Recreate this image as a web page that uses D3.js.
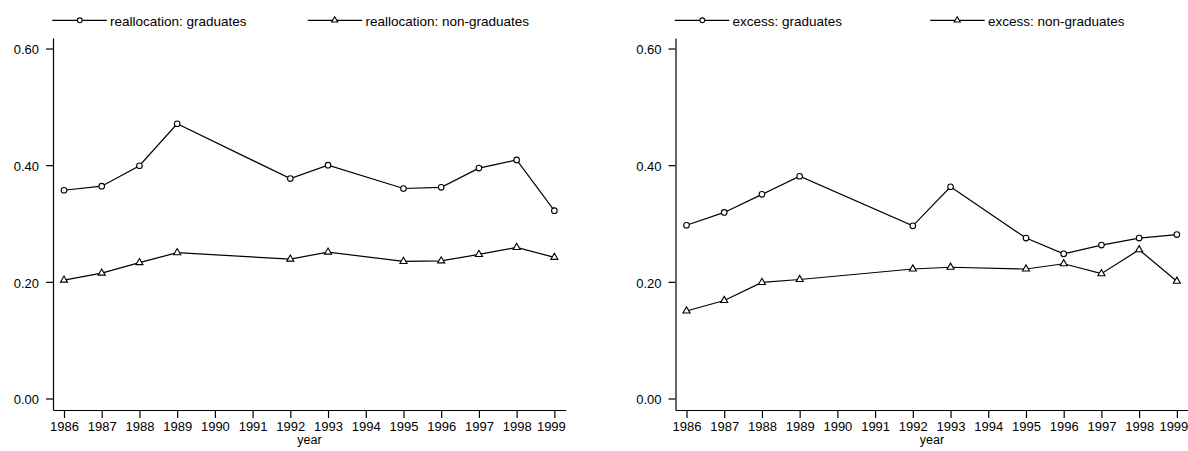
<!DOCTYPE html>
<html><head><meta charset="utf-8">
<script src="https://cdn.jsdelivr.net/npm/d3@7"></script>
<style>
body{margin:0;background:#fff;}
svg{display:block;font-family:"Liberation Sans",Arial,sans-serif;}
.axis text{font-size:13px;fill:#000;font-family:"Liberation Sans",Arial,sans-serif;}
.axis path,.axis line{stroke:#000;stroke-width:1.2;}
</style></head>
<body>
<svg id="c" width="1188" height="451"></svg>
<script>
const years = [1986,1987,1988,1989,1992,1993,1995,1996,1997,1998,1999];
const xTicks = [1986,1987,1988,1989,1990,1991,1992,1993,1994,1995,1996,1997,1998,1999];
const yTicks = [0,0.2,0.4,0.6];
const reallocGrad    = [0.357,0.364,0.399,0.471,0.377,0.400,0.360,0.362,0.395,0.409,0.322];
const reallocNonGrad = [0.203,0.215,0.233,0.250,0.239,0.251,0.235,0.236,0.247,0.259,0.242];
const excessGrad     = [0.297,0.319,0.350,0.381,0.296,0.363,0.275,0.248,0.263,0.275,0.281];
const excessNonGrad  = [0.150,0.168,0.199,0.204,0.222,0.225,0.222,0.231,0.214,0.255,0.201];
const panels = [
  {offset:0, labels:["reallocation: graduates","reallocation: non-graduates"], series:[reallocGrad,reallocNonGrad]},
  {offset:622.5, labels:["excess: graduates","excess: non-graduates"], series:[excessGrad,excessNonGrad]}
];

const svg = d3.select("#c");
const Y0 = 398.5, UNIT = 583.3;
const y = d3.scaleLinear().domain([(Y0-410)/UNIT,(Y0-38)/UNIT]).range([410,38]);
const STEP = 37.72, X0 = 64;
const x = d3.scaleLinear().domain([1986-(X0-53)/STEP,1999+11.5/STEP]).range([53,X0+13*STEP+11.5]);
const tri = d3.symbol(d3.symbolTriangle, 22);

panels.forEach(p=>{
  const g = svg.append("g").attr("transform",`translate(${p.offset},0)`);
  const ya = g.append("g").attr("class","axis").attr("transform","translate(53,0)")
    .call(d3.axisLeft(y).tickValues(yTicks).tickFormat(d3.format(".2f")).tickSize(7).tickSizeOuter(0).tickPadding(7));
  ya.selectAll("text").attr("dy","0.42em");
  const xa = g.append("g").attr("class","axis").attr("transform","translate(0,410)")
    .call(d3.axisBottom(x).tickValues(xTicks).tickFormat(d3.format("d")).tickSize(8).tickSizeOuter(0).tickPadding(4));
  xa.selectAll(".tick text").filter(d=>d===1999).attr("x",-3.5);
  g.append("text").attr("x",(x.range()[0]+x.range()[1])/2).attr("y",444)
    .attr("text-anchor","middle").attr("font-size",12.5).text("year");

  const line = d3.line().x((d,i)=>x(years[i])).y(d=>y(d));
  p.series.forEach((s,k)=>{
    g.append("path").datum(s).attr("d",line).attr("fill","none").attr("stroke","#000").attr("stroke-width",1.2);
    if(k===0){
      g.selectAll(null).data(s).enter().append("circle")
        .attr("cx",(d,i)=>x(years[i])).attr("cy",d=>y(d)).attr("r",2.8)
        .attr("fill","#fff").attr("stroke","#000").attr("stroke-width",1.1);
    } else {
      g.selectAll(null).data(s).enter().append("path").attr("d",tri)
        .attr("transform",(d,i)=>`translate(${x(years[i])},${y(d)})`)
        .attr("fill","#fff").attr("stroke","#000").attr("stroke-width",1.1);
    }
  });

  // legend
  const lx = [52.3,307.7];
  p.labels.forEach((lab,k)=>{
    const x0 = lx[k];
    g.append("line").attr("x1",x0).attr("x2",x0+54.5).attr("y1",20.3).attr("y2",20.3).attr("stroke","#000").attr("stroke-width",1.2);
    if(k===0){
      g.append("circle").attr("cx",x0+27.5).attr("cy",20.3).attr("r",2.4).attr("fill","#fff").attr("stroke","#000").attr("stroke-width",1.1);
    } else {
      g.append("path").attr("d",d3.symbol(d3.symbolTriangle,16)).attr("transform",`translate(${x0+27},20.3)`).attr("fill","#fff").attr("stroke","#000").attr("stroke-width",1.1);
    }
    g.append("text").attr("x",x0+57.7).attr("y",25.5).attr("font-size",13.5).text(lab);
  });
});
</script>
</body></html>
